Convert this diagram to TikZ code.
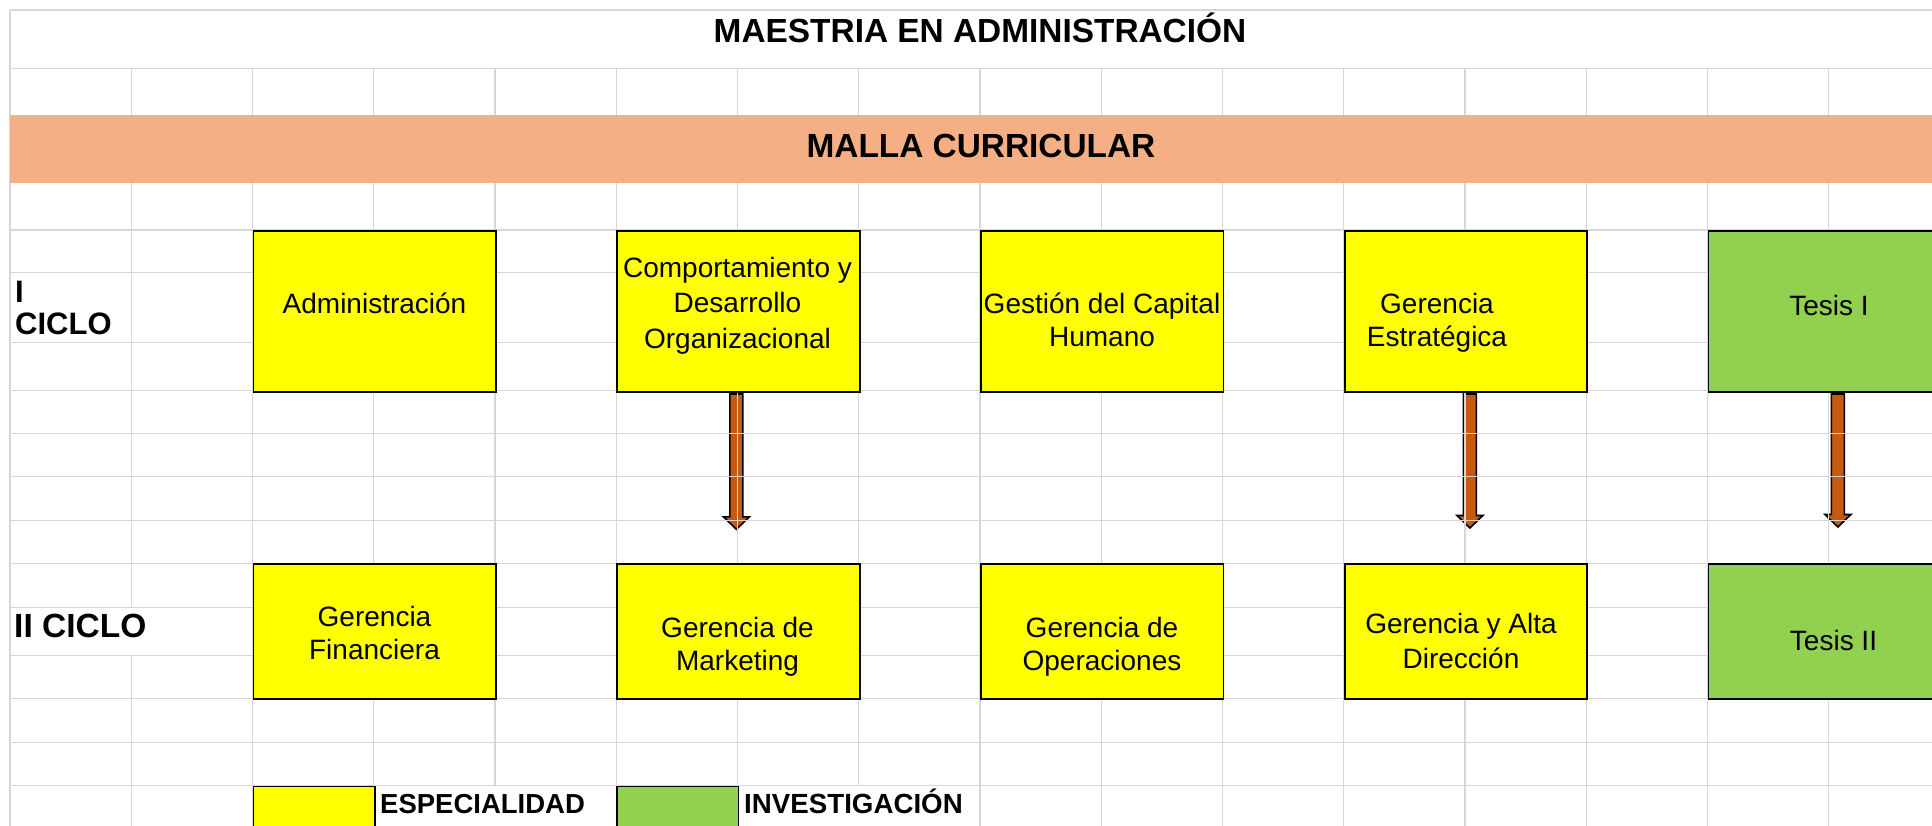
\documentclass[tikz,border=0pt]{standalone}
\usepackage{fontspec}
\setmainfont{Liberation Sans}
\usetikzlibrary{calc}
\definecolor{gridc}{RGB}{215,215,215}
\definecolor{bandc}{RGB}{244,176,132}
\definecolor{yel}{RGB}{255,255,0}
\definecolor{grn}{RGB}{146,208,80}
\definecolor{arrc}{RGB}{197,90,17}
\pgfdeclarelayer{arrowlayer}
\pgfdeclarelayer{gridlayer}
\pgfsetlayers{arrowlayer,gridlayer,main}
\newcommand\mblockarrow[2]{%
  \draw[barrow] let \p1=(#1), \p2=(#2) in
    ({\x1-6.5pt},\y1) -- ({\x1+6.5pt},\y1) -- ({\x1+6.5pt},{\y2+12.5pt}) -- ({\x1+13pt},{\y2+12.5pt}) -- (\x1,\y2) -- ({\x1-13pt},{\y2+12.5pt}) -- ({\x1-6.5pt},{\y2+12.5pt}) -- cycle;}
\begin{document}
\begin{tikzpicture}[x=1pt,y=-1pt,
  gridline/.style={draw=gridc, line width=1.3pt},
  ybox/.style={draw=black, line width=1.8pt, fill=yel, inner sep=0pt, minimum width=242.5pt, anchor=north west},
  gbox/.style={ybox, fill=grn},
  rowI/.style={minimum height=160.7pt},
  rowII/.style={minimum height=135pt},
  txt/.style={font=\fontsize{28}{33}\selectfont, align=center, inner sep=0pt},
  txtw/.style={font=\fontsize{28}{35.5}\selectfont, align=center, inner sep=0pt},
  bigbold/.style={font=\fontsize{33.4}{40}\selectfont\bfseries, inner sep=0pt, text height=23.9pt, text depth=0pt},
  legtxt/.style={inner sep=0pt, anchor=west, text height=19.7pt, text depth=0pt},
  barrow/.style={fill=arrc, draw=black, line width=1.6pt, line join=miter}
]
\useasboundingbox (0,0) rectangle (1932,826);
\begin{pgfonlayer}{arrowlayer}
\fill[white] (0,0) rectangle (1932,826);
\end{pgfonlayer}

% grid
\begin{pgfonlayer}{gridlayer}
\foreach \yy in {10,68.5,230,272.7,342.7,390.7,433.3,476.7,520.7,563.3,607.7,655.3,698.3,742.3,785.5}
  \draw[gridline] (10,\yy) -- (1932,\yy);
\draw[gridline] (10,10) -- (10,826);
\foreach \k in {2,3,5,6,8,9,10,11,12,13,14,15}
  \draw[gridline] ({10+121.25*\k},68.5) -- ({10+121.25*\k},826);
\draw[gridline] (131.25,68.5) -- (131.25,607.7) (131.25,655.3) -- (131.25,826);
\draw[gridline] (495,68.5) -- (495,785.5);
\draw[gridline] (858.75,68.5) -- (858.75,785.5);
\end{pgfonlayer}

% band
\node[fill=bandc, inner sep=0pt, minimum width=1923pt, minimum height=68pt, anchor=north west] (band) at (9.3,115) {};
\node[bigbold] (title) at (980,31) {MAESTRIA EN ADMINISTRACIÓN};
\node[bigbold] (malla) at (981,146) {MALLA CURRICULAR};

% I ciclo boxes
\node[ybox, rowI] (b1) at (252.5,230) {};
\node[ybox, rowI] (b2) at (616.25,230) {};
\node[ybox, rowI] (b3) at (980,230) {};
\node[ybox, rowI] (b4) at (1343.75,230) {};
\node[gbox, rowI] (b5) at (1707.5,230) {};
% II ciclo boxes
\node[ybox, rowII] (c1) at (252.5,563.3) {};
\node[ybox, rowII] (c2) at (616.25,563.3) {};
\node[ybox, rowII] (c3) at (980,563.3) {};
\node[ybox, rowII] (c4) at (1343.75,563.3) {};
\node[gbox, rowII] (c5) at (1707.5,563.3) {};

% texts
\node[txt] (t1) at (374.5,303) {Administración};
\node[txtw] (t2) at (737.5,305.5) {Comportamiento y\\Desarrollo\\Organizacional};
\node[txt] (t3) at (1102,319.4) {Gestión del Capital\\Humano};
\node[txt] (t4) at (1437,322.3) {Gerencia\\Estratégica};
\node[txt] (t5) at (1829,305.5) {Tesis I};
\node[txt] (t6) at (374.5,633) {Gerencia\\Financiera};
\node[txt] (t7) at (737.5,646.5) {Gerencia de\\Marketing};
\node[txt] (t8) at (1102,646.5) {Gerencia de\\Operaciones};
\node[txtw] (t9) at (1461,641) {Gerencia y Alta\\Dirección};
\node[txt] (t10) at (1833.5,640) {Tesis II};

% row labels
\node[font=\fontsize{31}{32.3}\selectfont\bfseries, align=left, inner sep=0pt, anchor=west] (lblI) at (15,308) {I\\CICLO};
\node[font=\fontsize{33.5}{40}\selectfont\bfseries, inner sep=0pt, anchor=west, text height=23.9pt, text depth=0pt] (lblII) at (14,625.3) {II CICLO};

% legend
\node[ybox, minimum width=121.25pt, minimum height=50pt] (legY) at (252.5,785.5) {};
\node[gbox, minimum width=121.25pt, minimum height=50pt] (legG) at (616.25,785.5) {};
\node[legtxt, font=\fontsize{27.5}{33}\selectfont\bfseries] (legYt) at (380,804) {ESPECIALIDAD};
\node[legtxt, font=\fontsize{27.7}{33}\selectfont\bfseries] (legGt) at (744,804) {INVESTIGACIÓN};

% arrows
\coordinate (a1s) at ($(b2.south)+(-2,1.5)$);
\coordinate (a1t) at ($(c2.north)+(-2,-34)$);
\coordinate (a2s) at ($(b4.south)+(4,1.5)$);
\coordinate (a2t) at ($(c4.north)+(4,-35.3)$);
\coordinate (a3s) at ($(b5.south)+(8.25,1.5)$);
\coordinate (a3t) at ($(c5.north)+(8.25,-36.3)$);
\begin{pgfonlayer}{arrowlayer}
\mblockarrow{a1s}{a1t}
\mblockarrow{a2s}{a2t}
\mblockarrow{a3s}{a3t}
\end{pgfonlayer}
\end{tikzpicture}
\end{document}
